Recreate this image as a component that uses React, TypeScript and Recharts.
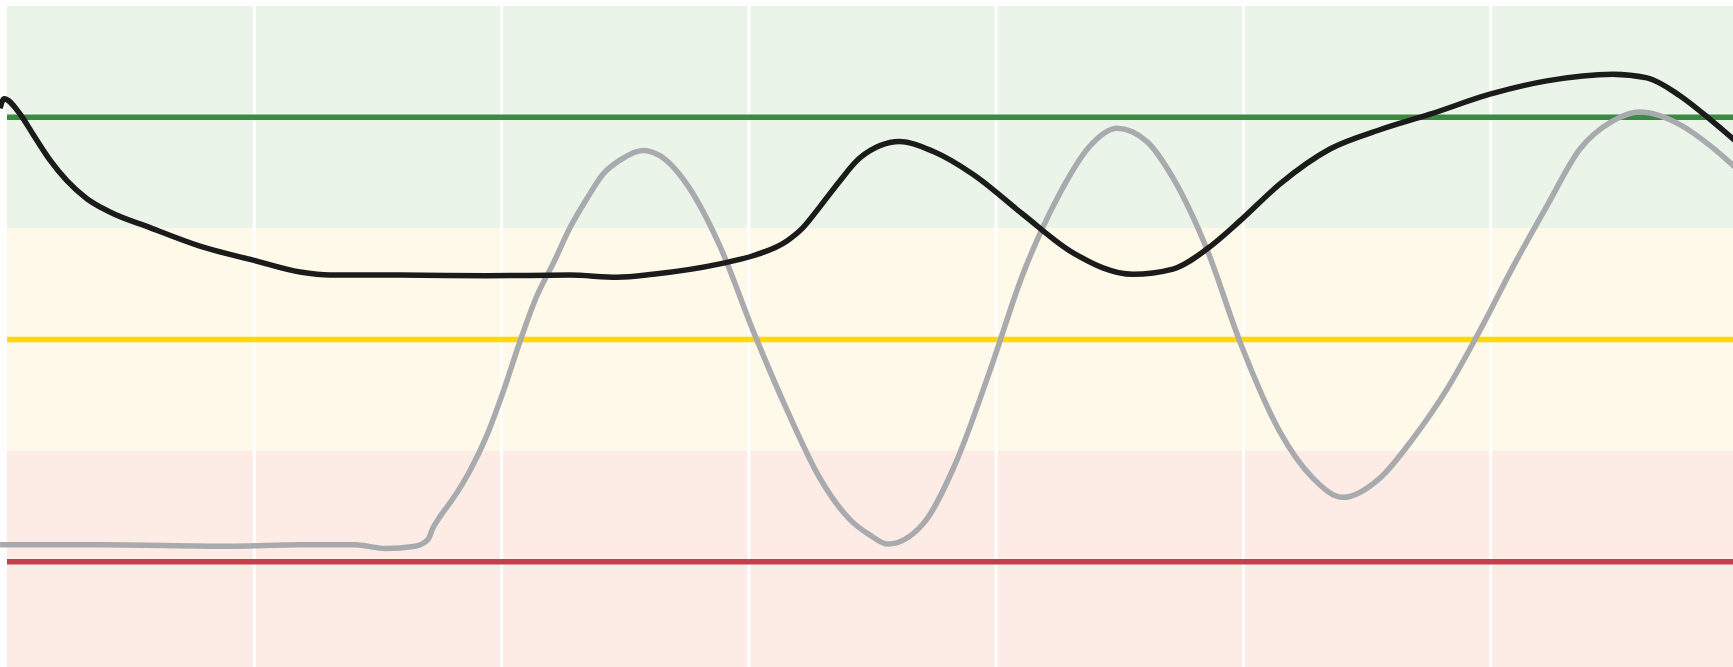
import { LineChart, Line, XAxis, YAxis, ReferenceArea, ReferenceLine } from 'recharts';

// score (black) trace, x in hours, y on a 0-90 scale
const scoreHours = [
  -0.028, -0.012, 0.053, 0.105, 0.174, 0.243, 0.323, 0.416, 0.578, 0.78, 0.995, 1.185, 1.306,
  1.589, 1.941, 2.277, 2.467, 2.612, 2.883, 3.017, 3.154, 3.219, 3.287, 3.368, 3.449, 3.611,
  3.744, 3.906, 4.108, 4.311, 4.553, 4.715, 4.852, 4.986, 5.148, 5.35, 5.552, 5.755, 5.997,
  6.227, 6.494, 6.632, 6.765, 6.898, 7.0,
];
const scoreValues = [
  76.2, 77.5, 75.4, 72.7, 69.2, 66.4, 64.0, 62.2, 60.1, 57.6, 55.7, 54.1, 53.7,
  53.7, 53.6, 53.7, 53.4, 53.8, 55.2, 56.3, 58.3, 60.1, 62.9, 66.4, 69.5, 71.7,
  70.4, 67.3, 61.9, 56.7, 53.8, 54.5, 57.2, 61.0, 66.0, 70.7, 73.3, 75.4, 78.1,
  79.9, 80.8, 80.3, 77.9, 74.4, 71.5,
];

// baseline (grey) trace
const baseHours = [
  -0.028, 0.376, 0.902, 1.185, 1.407, 1.529, 1.65, 1.702, 1.723, 1.751, 1.803, 1.872, 1.941,
  2.006, 2.074, 2.143, 2.208, 2.277, 2.345, 2.41, 2.479, 2.572, 2.64, 2.75, 2.883, 3.017,
  3.154, 3.287, 3.409, 3.49, 3.562, 3.704, 3.841, 3.975, 4.108, 4.246, 4.379, 4.488, 4.61,
  4.715, 4.852, 4.986, 5.148, 5.281, 5.402, 5.552, 5.685, 5.823, 5.956, 6.09, 6.227, 6.361,
  6.494, 6.603, 6.765, 6.886, 7.0,
];
const baseValues = [
  17.3, 17.3, 17.1, 17.3, 17.3, 16.8, 17.1, 18.0, 19.6, 21.1, 23.5, 27.3, 32.1,
  37.9, 44.7, 50.9, 55.2, 60.1, 64.0, 67.3, 69.2, 70.5, 69.8, 65.9, 57.6, 46.2,
  35.5, 26.3, 20.7, 18.6, 17.4, 20.1, 28.7, 40.8, 53.8, 64.0, 71.1, 73.5, 71.7,
  66.8, 57.2, 44.7, 32.5, 26.3, 23.7, 26.3, 31.6, 38.3, 46.2, 54.8, 63.0, 70.7,
  74.5, 75.7, 74.0, 71.2, 67.9,
];

const gridHours = [1, 2, 3, 4, 5, 6];

const bands = [
  { from: 60, to: 90, fill: '#EAF4E8' },
  { from: 30, to: 60, fill: '#FEF9E9' },
  { from: 0, to: 30, fill: '#FDECE6' },
];
const thresholds = [
  { y: 75, color: '#3A8A42' },
  { y: 45, color: '#FFD900' },
  { y: 15, color: '#C1404B' },
];

const scoreData = scoreHours.map((x, i) => ({ x, v: scoreValues[i] }));
const baseData = baseHours.map((x, i) => ({ x, v: baseValues[i] }));

export default function App() {
  return (
    <div
      style={{
        position: 'fixed',
        left: 0,
        top: 0,
        width: 1733,
        height: 667,
        overflow: 'hidden',
        background: '#fff',
      }}
    >
      <LineChart width={1738} height={673} margin={{ top: 6, right: 0, bottom: 0, left: 0 }}>
        <XAxis type="number" dataKey="x" domain={[-0.0283, 7]} hide />
        <YAxis type="number" domain={[0, 90]} hide />
        {bands.map((b) => (
          <ReferenceArea
            key={b.from}
            x1={0}
            x2={7}
            y1={b.from}
            y2={b.to}
            fill={b.fill}
            fillOpacity={1}
            stroke="none"
          />
        ))}
        {gridHours.map((h) => (
          <ReferenceLine key={h} x={h} stroke="#ffffff" strokeWidth={3} />
        ))}
        {thresholds.map((t) => (
          <ReferenceLine
            key={t.y}
            segment={[{ x: 0, y: t.y }, { x: 7, y: t.y }]}
            stroke={t.color}
            strokeWidth={5.5}
          />
        ))}
        <Line
          data={baseData}
          dataKey="v"
          type="monotone"
          stroke="#A9AAAE"
          strokeWidth={5.5}
          dot={false}
          activeDot={false}
          isAnimationActive={false}
        />
        <Line
          data={scoreData}
          dataKey="v"
          type="monotone"
          stroke="#1B1B1B"
          strokeWidth={5.5}
          dot={false}
          activeDot={false}
          isAnimationActive={false}
        />
      </LineChart>
    </div>
  );
}
